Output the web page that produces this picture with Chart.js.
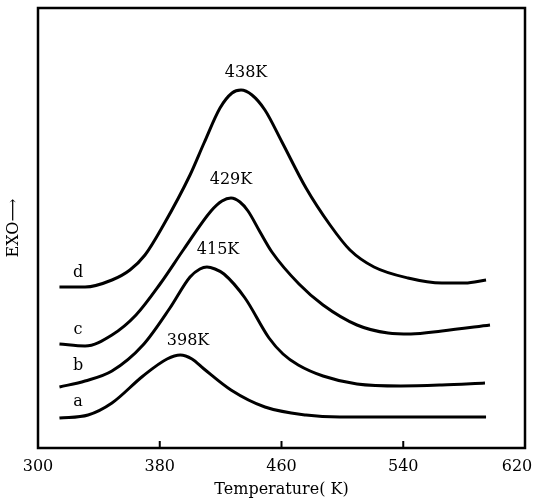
<!DOCTYPE html>
<html>
<head>
<meta charset="utf-8">
<script src="https://cdn.jsdelivr.net/npm/chart.js@4/dist/chart.umd.min.js"></script>
<style>
  body { margin: 0; background: #fff; }
</style>
</head>
<body>
<canvas id="chart" width="535" height="501"></canvas>
<script>
// --- DATA (temperature in K, heat flow in arbitrary units) ---
const curveD = [[314.1,16.1],[330.9,16.1],[348.6,16.8],[360.4,17.8],[370.3,19.3],[382.1,22.2],[399.9,27.3],[409.1,30.5],[419.6,34.0],[427.5,35.5],[433.4,35.8],[440.6,35.3],[449.1,33.8],[460.3,30.6],[476.1,26.0],[491.9,22.3],[505.0,19.8],[520.8,18.1],[543.1,17.0],[565.4,16.5],[580.6,16.5],[594.4,16.8]];
const curveC = [[314.1,10.4],[330.9,10.2],[348.6,11.3],[364.4,13.3],[380.2,16.4],[395.9,19.9],[413.7,23.7],[420.9,24.7],[426.8,25.0],[432.7,24.6],[438.0,23.7],[445.9,21.6],[453.7,19.6],[471.5,16.4],[487.3,14.3],[509.6,12.3],[530.0,11.5],[545.0,11.4],[565.4,11.7],[597.0,12.3]];
const curveB = [[314.1,6.1],[330.9,6.7],[348.6,7.7],[369.0,10.3],[386.7,14.0],[399.9,17.1],[406.4,17.9],[411.0,18.1],[416.3,17.9],[422.2,17.4],[436.0,15.0],[451.8,11.0],[461.0,9.4],[471.0,8.3],[487.3,7.2],[509.6,6.4],[538.5,6.2],[565.4,6.3],[593.7,6.5]];
const curveA = [[314.1,3.0],[332.9,3.3],[348.6,4.5],[369.0,7.2],[384.8,8.9],[393.5,9.3],[401.2,8.9],[409.1,7.9],[426.8,5.8],[449.1,4.1],[476.1,3.3],[498.4,3.1],[537.8,3.1],[594.4,3.1]];

const peakLabels = ['438K', '429K', '415K', '398K'];
const peakAt = [[436.7,37.5],[426.8,26.8],[418.3,19.8],[398.6,10.7]];
const curveLabels = ['d', 'c', 'b', 'a'];
const curveLabelAt = [[326.3,17.5],[326.3,11.8],[326.3,8.2],[326.3,4.6]];

const xTicks = [300, 380, 460, 540, 620];

const FONT = "'DejaVu Serif', 'Liberation Serif', serif";

const toPoints = arr => arr.map(p => ({ x: p[0], y: p[1] }));

const lineSet = (arr) => ({
    data: toPoints(arr),
    borderColor: '#000',
    borderWidth: 3,
    pointRadius: 0,
    cubicInterpolationMode: 'monotone',
    fill: false
});

// frame, inward ticks and text annotations
const decorPlugin = {
    id: 'decor',
    afterDraw(chart) {
        const { ctx, chartArea: a, scales: { x, y } } = chart;
        ctx.save();
        ctx.strokeStyle = '#000';
        ctx.lineWidth = 2.5;
        ctx.strokeRect(a.left, a.top, a.right - a.left, a.bottom - a.top);

        ctx.lineWidth = 2;
        xTicks.slice(1, -1).forEach(t => {
            const px = x.getPixelForValue(t);
            ctx.beginPath();
            ctx.moveTo(px, a.bottom);
            ctx.lineTo(px, a.bottom - 7);
            ctx.stroke();
        });

        ctx.fillStyle = '#000';
        ctx.textAlign = 'center';
        ctx.textBaseline = 'middle';
        ctx.font = '16px ' + FONT;
        peakLabels.forEach((txt, i) => {
            ctx.fillText(txt, x.getPixelForValue(peakAt[i][0]), y.getPixelForValue(peakAt[i][1]));
        });
        curveLabels.forEach((txt, i) => {
            ctx.fillText(txt, x.getPixelForValue(curveLabelAt[i][0]), y.getPixelForValue(curveLabelAt[i][1]));
        });
        ctx.restore();
    }
};

new Chart(document.getElementById('chart'), {
    type: 'line',
    data: {
        datasets: [lineSet(curveD), lineSet(curveC), lineSet(curveB), lineSet(curveA)]
    },
    options: {
        responsive: false,
        animation: false,
        layout: { padding: { top: 8, right: 10, left: 0, bottom: 0 } },
        plugins: { legend: { display: false }, tooltip: { enabled: false } },
        scales: {
            x: {
                type: 'linear',
                min: 300,
                max: 620,
                afterBuildTicks: scale => { scale.ticks = xTicks.map(v => ({ value: v })); },
                afterFit: scale => {
                    scale.height = 53;
                    scale.paddingLeft = 0;
                    scale.paddingRight = 0;
                },
                grid: { display: false, drawTicks: false },
                border: { display: false },
                ticks: {
                    color: '#000',
                    padding: 9,
                    maxRotation: 0,
                    font: { family: FONT, size: 16 },
                    // keep the last label inside the canvas
                    callback: v => v === 620 ? '620\u2003' : String(v)
                },
                title: {
                    display: true,
                    text: 'Temperature( K)',
                    color: '#000',
                    font: { family: FONT, size: 16 },
                    padding: { top: 0, bottom: 2 }
                }
            },
            y: {
                min: 0,
                max: 44,
                afterFit: scale => { scale.width = 38; },
                grid: { display: false, drawTicks: false },
                border: { display: false },
                ticks: { display: false },
                title: {
                    display: true,
                    text: 'EXO\u27F6',
                    color: '#000',
                    font: { family: FONT, size: 16 },
                    padding: { top: 4, bottom: 0 }
                }
            }
        }
    },
    plugins: [decorPlugin]
});
</script>
</body>
</html>
